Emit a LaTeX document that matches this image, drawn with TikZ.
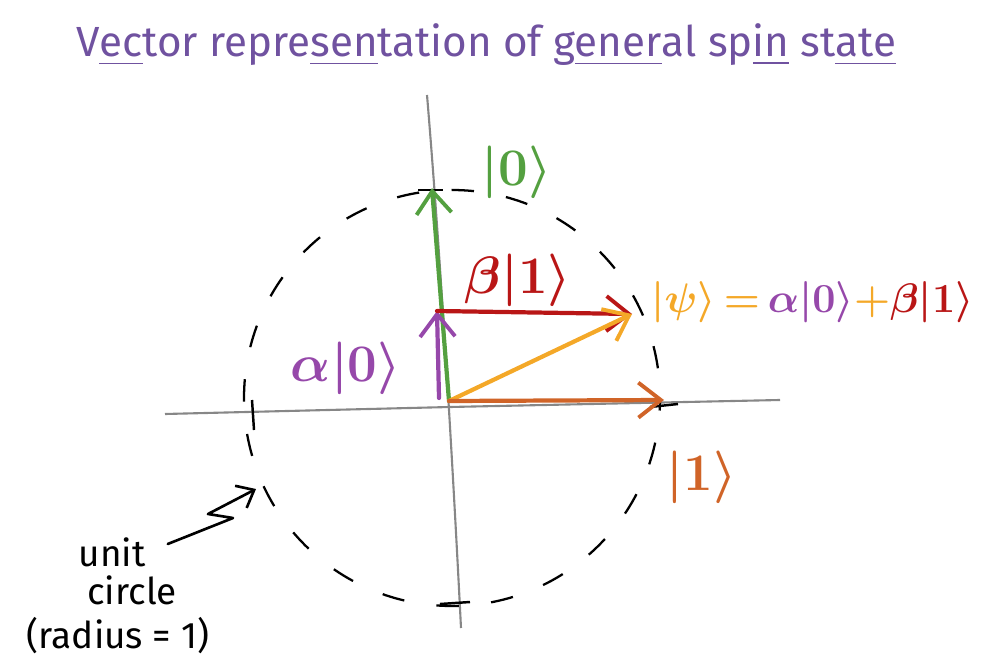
\RequirePackage{fix-cm}
\documentclass[tikz,border=0pt]{standalone}
\usepackage{amsmath,amssymb}
\usepackage{fontspec}
\setmainfont{Fira Sans}
\usepackage{tikz}
\usetikzlibrary{
  arrows.meta,
  calc,
  positioning
}
\definecolor{titlepurple}{RGB}{112,82,160}
\definecolor{kzero}{RGB}{84,160,64}
\definecolor{kalpha}{RGB}{150,72,170}
\definecolor{kbeta}{RGB}{185,22,22}
\definecolor{kpsi}{RGB}{244,168,40}
\definecolor{kone}{RGB}{208,100,40}
\definecolor{axisgray}{RGB}{135,135,135}
\tikzset{
  axisline/.style={axisgray, line width=1.2pt},
  tick/.style={black, line width=1.4pt},
  vec/.style={line width=2.4pt, line cap=round, -{Straight Barb[length=4.5mm,width=7mm,line width=2.2pt]}},
  ketlabel/.style={font=\fontsize{30}{34}\selectfont\boldmath, inner sep=0pt},
  note/.style={font=\fontsize{21}{25}\selectfont, align=center, inner sep=0pt}
}

\begin{document}
\begin{tikzpicture}[x=0.02cm, y=-0.02cm]
  \useasboundingbox (0,0) rectangle (990,665);
  % axes
  \draw[axisline] (165,414) -- (450,407) -- (780,400);
  \draw[axisline] (427,95) .. controls (440,250) and (452,450) .. (461,628);
  % unit circle
  \draw[black, line width=1.3pt, dash pattern=on 0.45cm off 0.65cm, dash phase=0.2cm]
    (452,398) ellipse (208 and 208);
  \draw[tick] (252,400) -- (254,430);
  \draw[tick] (650,407) -- (678,404);
  \draw[tick] (418,190) -- (443,190);
  \draw[tick] (440,604) -- (470,602);
  % points
  \coordinate (O) at (449,401);
  \coordinate (top) at (432,188);
  \coordinate (a0) at (437,311);
  \coordinate (psi) at (632,314);
  \coordinate (one) at (664,400);
  % vectors
  \draw[vec, kzero] (O) -- (top);
  \draw[vec, kalpha] (439,398) -- (a0);
  \draw[vec, kbeta] (a0) -- (psi);
  \draw[vec, kpsi] (O) -- (psi);
  \draw[vec, kone] (O) -- (one);
  % labels
  \node[ketlabel, kzero] (lzero) at (517,172) {$|0\rangle$};
  \node[ketlabel, kbeta] (lbeta) at (518,280) {$\beta|1\rangle$};
  \node[ketlabel, kalpha] (lalpha) at (346,368) {$\alpha|0\rangle$};
  \node[ketlabel, kone] (lone) at (702,477) {$|1\rangle$};
  \node[ketlabel, anchor=west, font=\fontsize{23.5}{28}\selectfont\boldmath] (eq) at (651,302)
    {$\textcolor{kpsi}{|\psi\rangle\,{=}}\,\textcolor{kalpha}{\alpha|0\rangle}\textcolor{kpsi}{{+}}\textcolor{kbeta}{\beta|1\rangle}$};
  % title
  \node[font=\fontsize{24}{28}\selectfont, titlepurple, inner sep=0pt] (title) at (486,45)
    {V\underline{ec}tor repre\underline{sen}tation of g\underline{ener}al sp\underline{in} st\underline{ate}};
  % unit circle note
  \node[note] (unit) at (112,552) {unit};
  \node[note] (circ) at (132,590) {circle};
  \node[note] (rad) at (118,636) {(radius = 1)};
  \coordinate (z1) at (233,518);
  \coordinate (z2) at (208,514);
  \coordinate (tip) at (256,489);
  \draw[line width=1.5pt, line cap=round, line join=round, -{Straight Barb[length=3mm,width=5mm]}]
    (unit.east) ++(22,-8) -- (z1) -- (z2) -- (tip);
\end{tikzpicture}
\end{document}
